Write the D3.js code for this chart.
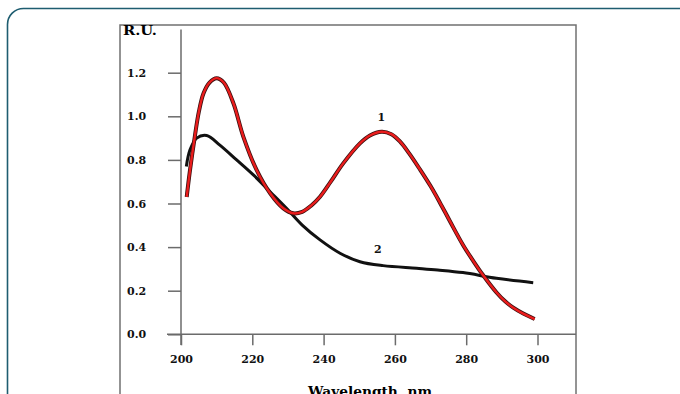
<!DOCTYPE html>
<html>
<head>
<meta charset="utf-8">
<script src="https://cdn.jsdelivr.net/npm/d3@7"></script>
<style>
  html, body { margin: 0; padding: 0; background: #fff; }
  svg { display: block; }
  .axis text { font-family: "DejaVu Serif", serif; font-weight: bold; font-size: 11px; fill: #111; }
  .axis line { stroke: #6b6b6b; stroke-width: 1.5; }
</style>
</head>
<body>
<svg id="chart"></svg>
<script>
// curve 1 (red)
const wavelength1 = [201.6, 202.5, 203.9, 205.0, 206.3, 208.0, 210.0, 212.0, 214.7, 217.5, 221.2, 225.0,
  228.7, 231.5, 234.0, 236.5, 239.0, 242.0, 245.5, 250.2, 253.0, 256.3, 259.0, 261.4, 264.0, 267.0,
  270.0, 272.6, 275.4, 279.1, 282.0, 284.7, 288.5, 291.0, 293.2, 296.0, 299.2];
const ru1 = [0.63, 0.75, 0.91, 1.02, 1.105, 1.155, 1.175, 1.155, 1.06, 0.906, 0.754, 0.647,
  0.578, 0.555, 0.562, 0.59, 0.631, 0.70, 0.784, 0.876, 0.912, 0.929, 0.918, 0.885, 0.83, 0.757,
  0.68, 0.605, 0.52, 0.41, 0.336, 0.272, 0.192, 0.150, 0.122, 0.095, 0.070];

// curve 2 (black)
const wavelength2 = [201.5, 202.5, 204.4, 207.2, 210.9, 215.6, 220.3, 225.0, 229.6, 234.0, 239.0,
  244.6, 250.2, 256.7, 266.1, 272.0, 279.1, 288.5, 298.8];
const ru2 = [0.77, 0.845, 0.90, 0.912, 0.868, 0.80, 0.731, 0.654, 0.578, 0.501, 0.433,
  0.372, 0.333, 0.315, 0.303, 0.295, 0.283, 0.257, 0.237];

const xTicks = [200, 220, 240, 260, 280, 300];
const yTicks = [0.0, 0.2, 0.4, 0.6, 0.8, 1.0, 1.2];
const curveLabels = ["1", "2"];
const labelX = [256.2, 255.2];
const labelY = [0.98, 0.373];

const W = 680, H = 394;
const svg = d3.select("#chart").attr("width", W).attr("height", H);

// card border
svg.append("rect")
  .attr("x", 7.5).attr("y", 8.5)
  .attr("width", 690).attr("height", 420)
  .attr("rx", 16)
  .attr("fill", "none")
  .attr("stroke", "#1e5d70")
  .attr("stroke-width", 1.6);

// figure frame
svg.append("rect")
  .attr("x", 120).attr("y", 25)
  .attr("width", 456).attr("height", 400)
  .attr("fill", "none")
  .attr("stroke", "#707070")
  .attr("stroke-width", 1.5);

const x = d3.scaleLinear().domain([200, 300]).range([181, 537.5]);
const y = d3.scaleLinear().domain([0, 1.2]).range([334.3, 72.7]);

// axis lines, crossing at the origin
svg.append("line")
  .attr("x1", 167).attr("x2", 576)
  .attr("y1", y(0)).attr("y2", y(0))
  .attr("stroke", "#6b6b6b").attr("stroke-width", 1.5);
svg.append("line")
  .attr("x1", x(200)).attr("x2", x(200))
  .attr("y1", 29.5).attr("y2", 345)
  .attr("stroke", "#6b6b6b").attr("stroke-width", 1.5);

const xAxis = svg.append("g")
  .attr("class", "axis")
  .attr("transform", "translate(0," + y(0) + ")")
  .call(d3.axisBottom(x).tickValues(xTicks).tickSize(11).tickFormat(d3.format("d")));
xAxis.select(".domain").remove();
xAxis.selectAll("text").attr("dy", 0).attr("y", 29);

const yAxis = svg.append("g")
  .attr("class", "axis")
  .attr("transform", "translate(" + x(200) + ",0)")
  .call(d3.axisLeft(y).tickValues(yTicks).tickSize(13).tickFormat(d3.format(".1f")));
yAxis.select(".domain").remove();
yAxis.selectAll("text").attr("text-anchor", "start").attr("x", 127 - 181);

svg.append("text")
  .attr("x", 123).attr("y", 35)
  .attr("font-family", "DejaVu Serif, serif")
  .attr("font-weight", "bold")
  .attr("font-size", 12)
  .attr("textLength", 34).attr("lengthAdjust", "spacingAndGlyphs")
  .text("R.U.");

svg.append("text")
  .attr("x", 308).attr("y", 396)
  .attr("font-family", "DejaVu Serif, serif")
  .attr("font-weight", "bold")
  .attr("font-size", 13)
  .attr("textLength", 124).attr("lengthAdjust", "spacingAndGlyphs")
  .text("Wavelength, nm");

const line = d3.line()
  .x(d => x(d[0]))
  .y(d => y(d[1]))
  .curve(d3.curveCatmullRom);

const pts1 = wavelength1.map((w, i) => [w, ru1[i]]);
const pts2 = wavelength2.map((w, i) => [w, ru2[i]]);

svg.append("path")
  .datum(pts2)
  .attr("d", line)
  .attr("fill", "none")
  .attr("stroke", "#111")
  .attr("stroke-width", 3);

// red trace with dark edge
svg.append("path")
  .datum(pts1)
  .attr("d", line)
  .attr("fill", "none")
  .attr("stroke", "#3a1010")
  .attr("stroke-width", 4);
svg.append("path")
  .datum(pts1)
  .attr("d", line)
  .attr("fill", "none")
  .attr("stroke", "#ea1c1c")
  .attr("stroke-width", 2.4);

svg.selectAll(".curve-label")
  .data(curveLabels)
  .enter().append("text")
  .attr("class", "curve-label")
  .attr("x", (d, i) => x(labelX[i]))
  .attr("y", (d, i) => y(labelY[i]))
  .attr("text-anchor", "middle")
  .attr("font-family", "DejaVu Serif, serif")
  .attr("font-weight", "bold")
  .attr("font-size", 11)
  .attr("fill", "#111")
  .text(d => d);
</script>
</body>
</html>
